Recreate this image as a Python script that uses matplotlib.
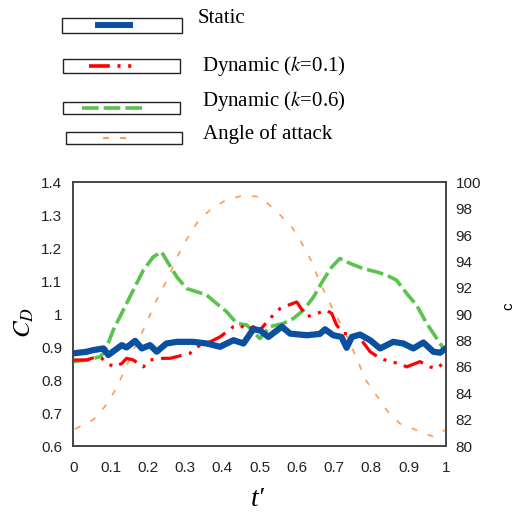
import matplotlib
matplotlib.use("Agg")
import matplotlib.pyplot as plt
from matplotlib.patches import Rectangle
from matplotlib.lines import Line2D

plt.rcParams['lines.scale_dashes'] = False
plt.rcParams['mathtext.fontset'] = 'stix'

# static C_D
t_static = [0, .036, .054, .081, .094, .13, .143, .166, .184, .206, .224, .25, .278,
            .322, .358, .394, .43, .457, .483, .501, .524, .56, .582, .627, .662,
            .676, .698, .72, .734, .748, .77, .797, .824, .859, .886, .913, .94,
            .967, .985, 1.0]
cd_static = [.881, .886, .891, .896, .876, .906, .899, .919, .896, .906, .886, .911,
             .916, .916, .911, .901, .921, .911, .954, .951, .931, .962, .941, .936,
             .940, .954, .936, .931, .898, .931, .938, .921, .896, .916, .911, .896,
             .914, .886, .883, .896]

# dynamic k=0.1
t_k01 = [0, .036, .063, .076, .107, .13, .143, .161, .188, .206, .242, .26, .278,
         .313, .34, .367, .394, .43, .448, .466, .483, .501, .528, .555, .577, .6,
         .627, .654, .68, .694, .707, .725, .752, .774, .797, .824, .85, .877,
         .895, .931, .958, .976, .994]
cd_k01 = [.861, .861, .871, .866, .840, .850, .866, .861, .840, .861, .866, .866,
          .871, .881, .906, .916, .931, .962, .967, .951, .962, .951, .987, 1.017,
          1.027, 1.037, .992, 1.002, 1.012, 1.002, .967, .941, .941, .921, .886,
          .866, .856, .850, .840, .856, .840, .835, .852]

# dynamic k=0.6
t_k06 = [0, .036, .072, .085, .107, .134, .161, .188, .215, .237, .25, .278, .304,
         .331, .358, .385, .412, .439, .466, .501, .528, .564, .591, .618, .645,
         .671, .694, .716, .743, .779, .815, .842, .868, .895, .922, .949, .976,
         .994]
cd_k06 = [.856, .861, .871, .886, .951, 1.012, 1.073, 1.133, 1.174, 1.189, 1.164,
          1.113, 1.078, 1.068, 1.058, 1.032, 1.007, .972, .967, .926, .962, .972,
          .987, 1.012, 1.052, 1.103, 1.143, 1.169, 1.154, 1.138, 1.128, 1.118,
          1.103, 1.063, 1.027, .972, .926, .896]

# angle of attack
t_aoa = [.005, .054, .085, .112, .134, .17, .197, .215, .237, .26, .282, .305,
         .336, .367, .412, .457, .501, .546, .587, .613, .638, .658, .676, .698,
         .721, .743, .765, .783, .81, .842, .877, .922, .967, .998]
aoa = [81.3, 82.0, 83.0, 84.2, 85.5, 87.8, 89.3, 90.6, 91.8, 93.1, 94.5, 95.7,
       97.1, 97.9, 98.7, 99.0, 98.9, 97.8, 96.6, 95.4, 94.1, 92.7, 91.6, 90.3,
       89.1, 87.8, 86.4, 85.1, 84.0, 82.7, 81.7, 81.2, 80.7, 81.2]

blue = '#0a4fa0'
red = '#ff0000'
green = '#5cc24e'
orange = '#ff9a50'
red_dash = (0, (15, 5.5, 2.2, 5.5, 2.2, 5.5))
green_dash = (0, (12, 3.6))
orange_dash = (0, (4.3, 8))

W, H = 520, 513
fig = plt.figure(figsize=(W / 100, H / 100), dpi=100)
ax = fig.add_axes([73.3 / W, 1 - 446 / H, 372.4 / W, 263.7 / H])
ax2 = ax.twinx()

ax2.plot(t_aoa, aoa, color=orange, lw=1.2, linestyle=orange_dash)
ax.plot(t_k06, cd_k06, color=green, lw=2.6, linestyle=green_dash)
ax.plot(t_k01, cd_k01, color=red, lw=2.3, linestyle=red_dash)
ax.plot(t_static, cd_static, color=blue, lw=4.5, solid_capstyle='round',
        solid_joinstyle='round')
ax.set_zorder(ax2.get_zorder() + 1)
ax.patch.set_visible(False)

ax.set_xlim(0, 1)
ax.set_ylim(0.6, 1.4)
ax2.set_ylim(80, 100)
ax.set_xticks([i / 10 for i in range(11)])
ax.set_xticklabels(['0', '0.1', '0.2', '0.3', '0.4', '0.5', '0.6', '0.7', '0.8', '0.9', '1'])
ax.set_yticks([0.6 + i / 10 for i in range(9)])
ax.set_yticklabels(['0.6', '0.7', '0.8', '0.9', '1', '1.1', '1.2', '1.3', '1.4'])
ax2.set_yticks(list(range(80, 101, 2)))

for lab in ax.get_xticklabels() + ax.get_yticklabels() + ax2.get_yticklabels():
    lab.set_fontfamily('Liberation Sans')
    lab.set_fontsize(11)
    lab.set_color('#222222')
ax.tick_params(axis='x', length=0, pad=11)
ax.tick_params(axis='y', length=0, pad=8)
ax2.tick_params(axis='y', length=0, pad=7)
for a in (ax, ax2):
    for s in a.spines.values():
        s.set_color('#404040')
        s.set_linewidth(1.1)

fig.text(24 / W, 1 - 323 / H, '$C_D$', fontsize=18, rotation=90, ha='center', va='center')
fig.text(258 / W, 1 - 499 / H, 't\u2032', fontsize=20, ha='center', va='center',
         family=['Liberation Serif', 'DejaVu Serif'], style='italic')
fig.text(508 / W, 1 - 306 / H, 'c', fontsize=11, rotation=90, ha='center', va='center',
         family='Liberation Sans')

# legend boxes drawn by hand
legend_rows = [
    ((61.7, 17.7, 181.7, 32.7), 'Static', blue, 4.3, '-', (98, 130), 198, 19),
    ((63, 59, 180, 73), 'Dynamic ($k$=0.1)', red, 2.6, red_dash, (89, 136), 202, 66),
    ((63, 101.7, 180, 114.3), 'Dynamic ($k$=0.6)', green, 2.6, green_dash, (82, 146), 202, 101),
    ((66, 131.7, 182, 144), 'Angle of attack', orange, 1.5, orange_dash, (103, 128), 203, 134),
]
for box, label, col, lw, ls, (x0, x1), tx, ty in legend_rows:
    bx0, by0, bx1, by1 = box
    fig.patches.append(Rectangle((bx0 / W, 1 - by1 / H), (bx1 - bx0) / W, (by1 - by0) / H,
                                 transform=fig.transFigure, fill=False,
                                 edgecolor='#222222', linewidth=1.0))
    yc = (by0 + by1) / 2
    fig.lines.append(Line2D([x0 / W, x1 / W], [1 - yc / H, 1 - yc / H],
                            transform=fig.transFigure, color=col, lw=lw, linestyle=ls))
    fig.text(tx / W, 1 - ty / H, label, fontsize=15, family='Liberation Serif',
             ha='left', va='center')

fig.savefig('out.png', dpi=100)
